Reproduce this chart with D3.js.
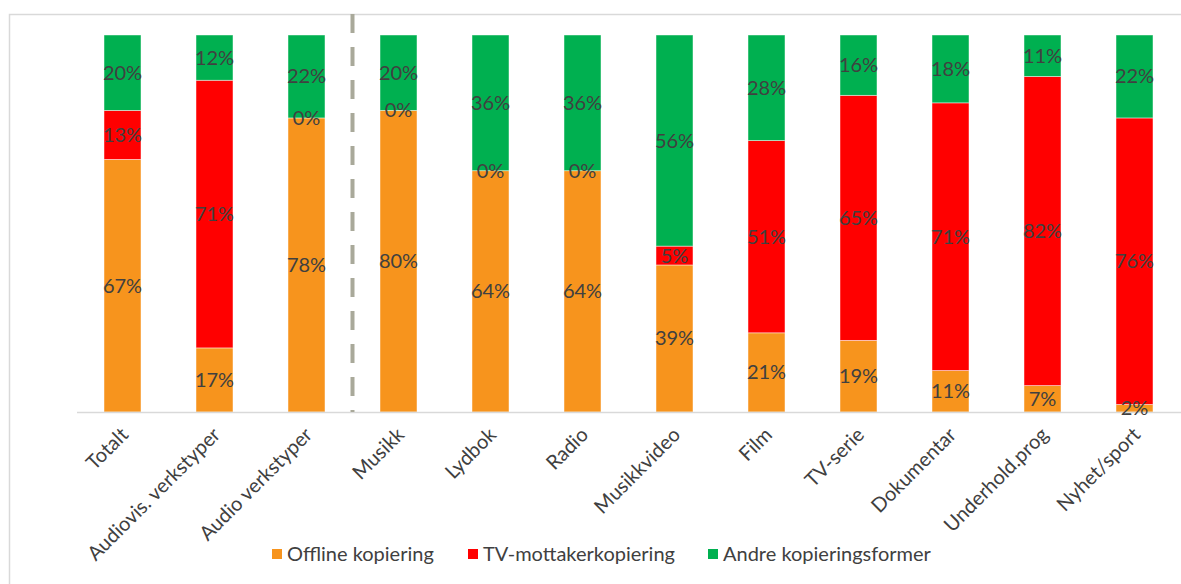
<!DOCTYPE html>
<html>
<head>
<meta charset="utf-8">
<script src="https://cdn.jsdelivr.net/npm/d3@7"></script>
<style>
body{margin:0;background:#fff;}
svg{display:block;}
</style>
</head>
<body>
<svg id="chart" width="1181" height="584"></svg>
<script>
var categories = ['Totalt','Audiovis. verkstyper','Audio verkstyper','Musikk','Lydbok','Radio','Musikkvideo','Film','TV-serie','Dokumentar','Underhold.prog','Nyhet/sport']
var offline = [67,17,78,80,64,64,39,21,19,11,7,2]
var tvmottaker = [13,71,0,0,0,0,5,51,65,71,82,76]
var andre = [20,12,22,20,36,36,56,28,16,18,11,22]
var seriesNames = ['Offline kopiering','TV-mottakerkopiering','Andre kopieringsformer']
var colors = ['#F7941D','#FF0000','#00B050']

var svg = d3.select('#chart')
var font = 'Lato, Calibri, sans-serif'

var rows = categories.map(function(c, i){
    return {cat: c, s0: offline[i], s1: tvmottaker[i], s2: andre[i]}
})
var stacked = d3.stack().keys(['s0','s1','s2'])(rows)

var x = d3.scaleBand().domain(categories).range([76.5, 1180.5]).paddingInner(0.598).paddingOuter(0.299)
var y = d3.scaleLinear().domain([0, 100]).range([412, 35])

// chart frame
svg.append('rect')
    .attr('x', 9.5).attr('y', 14.5)
    .attr('width', 1200).attr('height', 600)
    .attr('fill', 'none')
    .attr('stroke', '#d9d9d9')
    .attr('stroke-width', 1.5)

var layers = svg.selectAll('g.layer').data(stacked)
    .enter().append('g')
    .attr('class', 'layer')
    .attr('fill', function(d, i){ return colors[i] })

layers.selectAll('rect')
    .data(function(d){ return d })
    .enter().append('rect')
    .attr('x', function(d){ return x(d.data.cat) })
    .attr('width', x.bandwidth())
    .attr('y', function(d){ return y(d[1]) })
    .attr('height', function(d){ return y(d[0]) - y(d[1]) })
    .attr('stroke', '#ffffff')
    .attr('stroke-opacity', 0.6)
    .attr('stroke-width', 0.75)

// axis
var xAxis = svg.append('g')
    .attr('transform', 'translate(0,412)')
    .call(d3.axisBottom(x).tickSize(0).tickPadding(0))
xAxis.select('.domain').attr('stroke', '#d9d9d9').attr('stroke-width', 1.5)
xAxis.selectAll('text')
    .attr('font-family', font)
    .attr('font-size', '20px')
    .attr('fill', '#404040')
    .attr('text-anchor', 'end')
    .attr('dy', null)
    .attr('transform', 'translate(7,24) rotate(-45)')

// separator between summary and detail
svg.append('line')
    .attr('x1', (x('Audio verkstyper') + x('Musikk') + x.bandwidth()) / 2)
    .attr('x2', (x('Audio verkstyper') + x('Musikk') + x.bandwidth()) / 2)
    .attr('y1', 14)
    .attr('y2', 412)
    .attr('stroke', '#a9a99a')
    .attr('stroke-width', 4)
    .attr('stroke-dasharray', '19,14')

// data labels, drawn above all bars
var labels = svg.append('g')
stacked.forEach(function(layer){
    labels.selectAll(null)
        .data(layer)
        .enter().append('text')
        .attr('x', function(d){ return x(d.data.cat) + x.bandwidth() / 2 })
        .attr('y', function(d){ return (y(d[0]) + y(d[1])) / 2 })
        .attr('dy', '0.35em')
        .attr('text-anchor', 'middle')
        .attr('font-family', font)
        .attr('font-size', '20px')
        .attr('fill', '#404040')
        .text(function(d){ return Math.round(d[1] - d[0]) + '%' })
})

// legend
var legendX = [272, 468, 708]
var legend = svg.selectAll('g.legend').data(seriesNames)
    .enter().append('g')
    .attr('class', 'legend')
    .attr('transform', function(d, i){ return 'translate(' + legendX[i] + ',554)' })
legend.append('rect')
    .attr('x', 0).attr('y', -5)
    .attr('width', 10).attr('height', 10)
    .attr('fill', function(d, i){ return colors[i] })
legend.append('text')
    .attr('x', 15)
    .attr('dy', '0.35em')
    .attr('font-family', font)
    .attr('font-size', '20px')
    .attr('fill', '#404040')
    .text(function(d){ return d })
</script>
</body>
</html>
